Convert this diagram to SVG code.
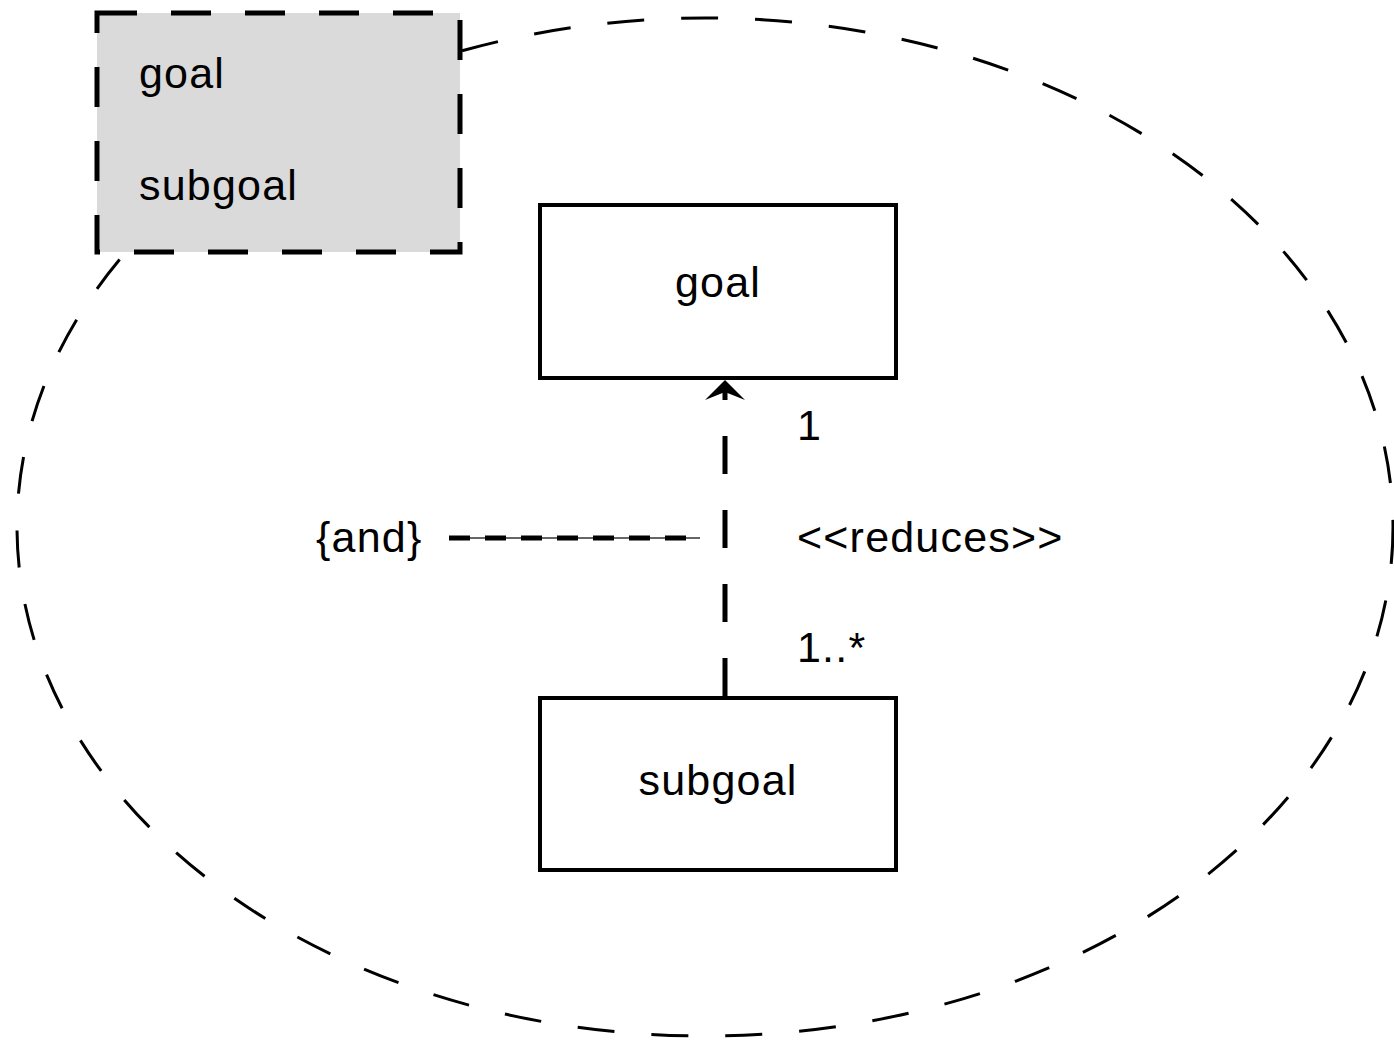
<svg xmlns="http://www.w3.org/2000/svg" width="1394" height="1041" viewBox="0 0 1394 1041">
<style>
text{font-family:"Liberation Sans",Arial,sans-serif;font-size:43px;letter-spacing:1.2px;fill:#000}
.box{fill:#fff;stroke:#000;stroke-width:4}
</style>
<rect width="1394" height="1041" fill="#fff"/>
<g id="boundary">
<ellipse cx="705" cy="527" rx="688" ry="509" fill="none" stroke="#000" stroke-width="3" stroke-dasharray="37 37"/>
</g>
<g id="legend">
<rect x="97" y="13" width="363" height="239" fill="#dadada" stroke="#000" stroke-width="5" stroke-dasharray="40 34"/>
<text x="139" y="88">goal</text>
<text x="139" y="200">subgoal</text>
</g>
<g id="goal">
<rect class="box" x="540" y="205" width="356" height="173"/>
<text x="718" y="297" text-anchor="middle">goal</text>
</g>
<g id="subgoal">
<rect class="box" x="540" y="698" width="356" height="172"/>
<text x="718" y="795" text-anchor="middle">subgoal</text>
</g>
<g id="connectors">
<line x1="725" y1="696" x2="725" y2="384" stroke="#000" stroke-width="5" stroke-dasharray="38 36"/>
<path d="M725,380 L705,400 L725,392 L745,400 Z" fill="#000"/>
<line x1="449" y1="538" x2="700" y2="538" stroke="#333" stroke-width="1.5"/>
<line x1="449" y1="538" x2="690" y2="538" stroke="#000" stroke-width="5" stroke-dasharray="21 15"/>
<text x="797" y="440">1</text>
<text x="797" y="552">&lt;&lt;reduces&gt;&gt;</text>
<text x="797" y="662">1..*</text>
<text x="316" y="552">{and}</text>
</g>
</svg>
